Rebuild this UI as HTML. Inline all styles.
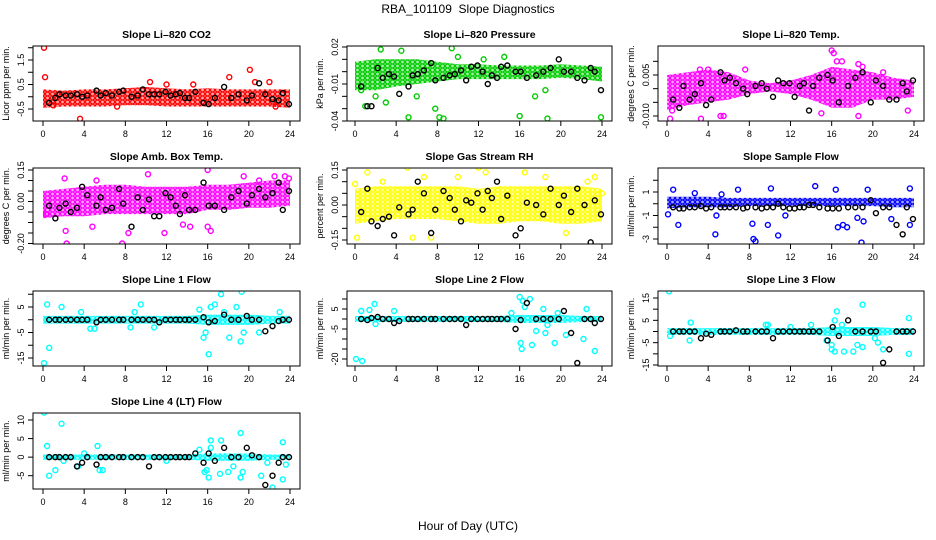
<!DOCTYPE html>
<html><head><meta charset="utf-8"><style>
body{margin:0;background:#fff}
svg{display:block;font-family:"Liberation Sans",sans-serif}
</style></head><body>
<svg id="c" width="936" height="540" viewBox="0 0 936 540">
<defs id="defs"></defs>
<text x="468" y="13" font-size="12" text-anchor="middle">RBA_101109&#160; Slope Diagnostics</text>
<text x="468" y="530" font-size="12" text-anchor="middle">Hour of Day (UTC)</text>
</svg>
<script>
const hours = [0,2,4,6,8,10,12,14,16,18,20,22,24];
const xTicks = [0,4,8,12,16,20,24];
const blackHours = [0.6,1.2,1.6,2.2,2.7,3.3,3.8,4.3,5.2,5.6,6.1,6.7,7.4,7.8,8.6,9.2,9.7,10.3,10.8,11.3,11.9,12.4,12.9,13.3,13.8,14.2,14.8,15.6,16.1,16.7,17.6,18.3,19.0,19.8,20.3,21.0,21.6,22.3,22.9,23.3,23.9];

// Panel 1 CO2
const co2Lo = [-0.45,-0.4,-0.4,-0.4,-0.35,-0.35,-0.4,-0.4,-0.4,-0.4,-0.4,-0.4,-0.45];
const co2Hi = [0.3,0.25,0.3,0.3,0.35,0.4,0.35,0.3,0.35,0.3,0.3,0.3,0.3];
const co2PtX = [0.1,0.2,3.6,10.4,14.6,18.1,20.1,20.6,22,22.6,1,7.2,12];
const co2PtY = [2.0,0.8,-0.9,0.6,0.5,0.8,1.1,0.6,0.6,-0.4,-0.35,-0.4,0.5];
const co2Black = [-0.25,-0.05,0.1,0.05,0.05,0.1,0,0.05,0.25,0.05,0.15,0.05,0.2,0.25,0,0.05,0.3,0.1,0.1,0.1,0.2,0.05,0.1,0.15,-0.05,-0.05,0.2,-0.25,-0.3,-0.05,0.4,-0.05,0.1,-0.15,0.05,0.55,0.1,-0.1,-0.15,0.15,-0.3];
const co2Ticks = [-0.5,0,0.5,1,1.5,2];
const co2Labels = ["-0.5","","0.5","","1.5",""];

// Panel 2 Pressure
const prLo = [-0.015,-0.015,-0.012,-0.01,-0.008,-0.006,-0.006,-0.006,-0.006,-0.006,-0.005,-0.006,-0.008];
const prHi = [0.008,0.01,0.01,0.01,0.008,0.006,0.006,0.005,0.005,0.005,0.006,0.005,0.004];
const prPtX = [0.6,1.0,4.5,5.2,7.8,8.2,8.6,9.4,6,3,16,18.7,23.9,12.5,10,2.5,14.5,17.5,18.5,2];
const prPtY = [-0.015,-0.028,0.017,-0.037,-0.03,-0.037,-0.038,0.019,-0.02,-0.025,-0.036,-0.038,-0.037,0.01,0.012,0.018,0.012,-0.02,-0.015,-0.02];
const prBlack = [-0.012,-0.028,-0.028,0.003,-0.005,-0.002,-0.004,-0.018,-0.012,-0.003,-0.002,0.001,0.007,-0.007,-0.005,-0.003,-0.002,0.001,-0.007,0.004,0.005,0.0,-0.01,-0.003,-0.005,0.004,0.005,0.0,0.0,-0.005,-0.003,0.0,0.003,0.01,0.0,0.0,-0.005,-0.007,0.003,0.0,-0.015];
const prTicks = [-0.04,-0.03,-0.02,-0.01,0,0.01,0.02];
const prLabels = ["-0.04","","","-0.01","","","0.02"];

// Panel 3 Li-820 Temp
const ltLo = [-0.008,-0.006,-0.005,-0.004,-0.002,-0.001,-0.002,-0.004,-0.007,-0.007,-0.004,-0.004,-0.003];
const ltHi = [0.005,0.006,0.007,0.006,0.003,0.002,0.003,0.005,0.008,0.007,0.006,0.004,0.003];
const ltPtX = [0.3,3.3,5.2,5.5,7.6,16,16.2,18.6,17,18.6,21,23.4,0.5,15,3.2,4,16.5,19];
const ltPtY = [-0.011,-0.011,-0.01,-0.01,0.007,0.014,0.013,-0.01,0.01,0.009,0.006,-0.008,-0.008,-0.009,0.007,0.007,0.01,0.008];
const ltBlack = [-0.004,-0.007,0.001,-0.004,-0.002,0.002,-0.006,-0.004,0.006,0.003,0.004,0.002,0.0,-0.002,0.001,0.002,0.0,-0.003,0.003,0.002,0.002,-0.003,0.001,0.002,-0.008,0.001,0.004,0.005,0.003,-0.005,0.001,0.004,0.006,-0.005,0.003,0.001,-0.004,-0.004,0.002,-0.001,0.003];
const ltTicks = [-0.01,-0.005,0,0.005,0.01];
const ltLabels = ["-0.010","","","0.005",""];

// Panel 4 Amb Box Temp
const abLo = [-0.08,-0.07,-0.07,-0.06,-0.06,-0.06,-0.06,-0.06,-0.04,-0.04,-0.03,-0.03,-0.02];
const abHi = [0.05,0.06,0.07,0.08,0.08,0.07,0.07,0.07,0.08,0.08,0.09,0.1,0.1];
const abPtX = [0.3,2.1,2.2,2.3,5.2,7.7,8.3,10.2,13.6,14.3,16,16.3,16,19.5,21,22.5,23.5,23.9,4.8,11.8];
const abPtY = [-0.06,0.11,-0.14,-0.2,0.1,-0.2,-0.15,0.13,-0.11,-0.12,0.15,-0.14,-0.12,0.12,0.1,0.12,0.12,0.11,-0.12,-0.15];
const abBlack = [-0.02,-0.08,-0.03,-0.01,-0.05,-0.03,0.07,0.03,-0.02,0.02,-0.04,-0.03,0.06,-0.01,-0.12,0.02,-0.04,0.01,-0.07,-0.07,0.04,0.02,-0.02,-0.06,0.03,-0.04,-0.04,0.09,-0.02,-0.02,-0.04,0.02,0.05,-0.01,0.03,0.06,0.02,0.04,0.09,-0.04,0.05];
const abTicks = [-0.2,-0.15,-0.1,-0.05,0,0.05,0.1,0.15];
const abLabels = ["-0.20","","","","0.00","","","0.15"];

// Panel 5 RH
const rhLo = [-0.08,-0.07,-0.06,-0.06,-0.06,-0.07,-0.08,-0.08,-0.07,-0.07,-0.08,-0.08,-0.07];
const rhHi = [0.07,0.08,0.08,0.08,0.08,0.08,0.07,0.08,0.08,0.08,0.08,0.08,0.07];
const rhPtX = [0,0.2,1.2,2.7,3.8,5.1,5.6,6.3,6.7,7.4,9.5,12,12.7,13.2,16.5,17.5,18.5,22.6,23.3,24,10,20.5];
const rhPtY = [0.09,-0.14,0.14,0.1,-0.18,0.16,-0.14,-0.18,0.12,-0.14,-0.18,0.16,0.14,-0.18,0.14,-0.2,0.12,0.1,0.12,0.05,0.12,-0.12];
const rhBlack = [-0.03,0.07,-0.07,-0.09,-0.06,-0.05,-0.13,-0.01,-0.04,-0.02,0.1,0.05,-0.12,-0.02,0.06,0.03,-0.02,-0.07,0.02,0.01,0.05,-0.02,0.06,0.03,0.1,-0.06,0.04,-0.13,-0.1,0.01,0.0,-0.04,0.07,0.0,0.04,-0.03,0.07,0.0,-0.16,0.02,-0.04];
const rhTicks = [-0.15,-0.1,-0.05,0,0.05,0.1,0.15];
const rhLabels = ["-0.15","","","0.00","","","0.15"];

// Panel 6 Sample Flow
const sfLo = [-0.4,-0.3,-0.3,-0.3,-0.2,-0.2,-0.2,-0.2,-0.2,-0.2,-0.2,-0.3,-0.3];
const sfHi = [0.6,0.6,0.6,0.5,0.5,0.5,0.5,0.5,0.5,0.5,0.5,0.5,0.5];
const sfPtX = [0.6,1.1,2.7,4.7,5.3,6.9,7.5,8.3,8.4,8.6,9.8,10.1,10.8,14.4,16.4,16.6,17.1,17.5,18.9,19.1,18.5,19.5,21.8,23.6,23.6,0.1,4.8,11.5];
const sfPtY = [1.2,-1.8,0.9,-2.6,0.8,1.2,4.1,-1.7,-3.0,-3.2,-1.8,1.3,-2.7,1.5,1.2,-2.0,-1.8,-2.0,-3.3,-1.5,-1.2,1.2,-1.3,1.3,-1.8,-0.9,-1.0,-1.0];
const sfBlack = [-0.3,-0.4,-0.4,-0.3,-0.3,-0.2,-0.4,-0.3,-0.3,-0.3,-0.3,-0.3,-0.4,-0.3,-0.3,-0.4,-0.3,-0.3,0.0,-0.3,-0.4,-0.4,-0.3,-0.3,-0.1,-0.1,-0.3,-0.4,-0.4,-0.4,-0.3,-0.3,-0.3,0.3,-0.8,-0.3,-0.3,-1.8,-2.6,-0.3,-1.3];
const sfTicks = [-3,-2,-1,0,1,2];
const sfLabels = ["-3","","-1","","1",""];

// Panel 7 Line 1
const l1Lo = [-1.5,-1.5,-1.5,-1.5,-1.5,-1.5,-1.5,-1.5,-2,-2,-2,-1.5,-1.5];
const l1Hi = [1.5,1.5,1.5,1.5,1.5,1.5,1.5,1.5,2,2,2,1.5,1.5];
const l1PtX = [0.1,0.4,0.6,1.8,3.7,4.6,5.0,8.9,9.5,15.2,15.6,15.8,16.1,16.3,16.7,17.3,17.6,18.1,18.8,19.2,19.3,19.5,21,23,8.5,10.8];
const l1PtY = [-17,6,-11,5,3,-3.5,-3.5,3,6,4,-7,-5,-13.5,5,6,10,3,-7,5,-8.5,11,-5,-5,3,-3,-3];
const l1Black = [0,0,0,0,0,0,0,0,-1,0,0,0,0,0,0,0,0,0,0,-1,0,0,0,0,0,0,0,1,-1,-0.5,2,0,0,1.5,0,0,-4.5,-2.5,-0.5,0,0];
const l1Ticks = [-15,-10,-5,0,5,10];
const l1Labels = ["-15","","-5","","5",""];

// Panel 8 Line 2
const l2Lo = [-1.5,-1.5,-1.5,-1.5,-1.5,-1.5,-1.5,-1.5,-2,-2,-2,-1.5,-1.5];
const l2Hi = [1.5,1.5,1.5,1.5,1.5,1.5,1.5,1.5,2,2,2,1.5,1.5];
const l2PtX = [0.1,0.7,0.6,1.4,1.9,2.0,3.8,15.2,16,16.3,16.5,17,16.1,16.2,17.2,17.6,18.3,18.5,18.7,19.4,20.5,22.2,22.5,23.3,19.7];
const l2PtY = [-20,-21,4,4.5,7.5,-2.5,4,3,11,9,6,10,-12,-15,-13,-6,5,-7,-3,-12,-8,-10,5,-16,3];
const l2Black = [0,-0.5,0.5,1,0,0,-2,-1,0,0,0,0,0,0,0,0,0,0,-3,0,0,0,0,0,0,0,0,-5,-0.5,8,0,0,0,0,4,-7,-22,0,0,-2,0];
const l2Ticks = [-20,-15,-10,-5,0,5,10];
const l2Labels = ["-20","","","-5","","5",""];

// Panel 9 Line 3
const l3Lo = [-1.5,-1.5,-1.5,-1.5,-1.5,-1.5,-1.5,-1.5,-2,-2,-2,-1.5,-1.5];
const l3Hi = [1.5,1.5,1.5,1.5,1.5,1.5,1.5,1.5,2,2,2,1.5,1.5];
const l3PtX = [0.2,0.3,2.2,2.3,9.6,9.8,12,15.5,16,16,16.3,16.5,16.3,17.2,18.1,18.5,19,19,20.2,20.5,21,23.5,23.5,14,17];
const l3PtY = [18,-2,-4,4,3,3,2,-4,-8,-6,-9,9,5,-9,-9,-6,-7,12,-3,-5,-8,6,-10,3,3];
const l3Black = [0,0,0,0,0,-3,-1,-1.5,0,0,0,0.5,0,0,0,0,0,-3,0,0,0,0,0,0,0,0,0,-4,2,-2,5,0,0,0,0,-14,-8,0,0,0,0];
const l3Ticks = [-15,-10,-5,0,5,10,15];
const l3Labels = ["-15","","-5","","5","","15"];

// Panel 10 Line 4
const l4Lo = [-0.7,-0.7,-0.7,-0.7,-0.7,-0.7,-0.7,-0.7,-1,-1,-1,-0.7,-0.7];
const l4Hi = [0.7,0.7,0.7,0.7,0.7,0.7,0.7,0.7,1,1,1,0.7,0.7];
const l4PtX = [0.1,0.4,0.6,1.2,1.8,2,3.4,5.3,5.5,5.8,15.2,15.7,15.9,16.1,16.3,16.3,17.2,17.3,18,18.5,19.2,19.2,19.4,21.2,21.8,22.3,23.3,23.3,23.6,12,4];
const l4PtY = [12,3,-5,-3.5,9,-1,-2.5,3,-3.5,-3.5,2,-4,-3.5,-5.5,4.5,2.5,-4.5,4.5,-4,-2.5,6.5,-5.5,-4,-5,-1.5,-8.2,4,-6,-2,-1,1];
const l4Black = [0,0,0,0,0,-2.5,-1.5,0,-2,0,0,0,0,0,0,0,0,-2.5,0,0,0,0,0,0,0,0,1,-1.5,1,-1,2.5,0,0,2.5,0.5,0,-7.5,-5,-1.5,0,0];
const l4Ticks = [-5,0,5,10];
const l4Labels = ["-5","0","5","10"];

const NS = "http://www.w3.org/2000/svg";
const svg = document.getElementById('c');
const defs = document.getElementById('defs');
function mk(tag, attrs, parent){const e=document.createElementNS(NS,tag);for(const k in attrs)e.setAttribute(k,attrs[k]);(parent||svg).appendChild(e);return e;}

const cols = [{l:33,r:300,x0:43,x24:290},{l:347,r:612,x0:355,x24:602},{l:658,r:924,x0:667,x24:914}];
const rows = [{t:46,b:121},{t:168,b:244},{t:291,b:366},{t:413,b:489}];

const panels = [
 {name:"co2",title:"Slope Li\u2013820 CO2",ylab:"Licor ppm per min.",c:0,r:0,color:"#ff0000",v1:1.5,p1:60,v2:-0.5,p2:109,lo:co2Lo,hi:co2Hi,px:co2PtX,py:co2PtY,bk:co2Black,ticks:co2Ticks,labels:co2Labels},
 {name:"pressure",title:"Slope Li\u2013820 Pressure",ylab:"kPa per min.",c:1,r:0,color:"#00cc00",v1:0.02,p1:47,v2:-0.04,p2:121,lo:prLo,hi:prHi,px:prPtX,py:prPtY,bk:prBlack,ticks:prTicks,labels:prLabels},
 {name:"li820-temp",title:"Slope Li\u2013820 Temp.",ylab:"degrees C per min.",c:2,r:0,color:"#ff00ff",v1:0.005,p1:75,v2:-0.01,p2:116,lo:ltLo,hi:ltHi,px:ltPtX,py:ltPtY,bk:ltBlack,ticks:ltTicks,labels:ltLabels},
 {name:"amb-box-temp",title:"Slope Amb. Box Temp.",ylab:"degrees C per min.",c:0,r:1,color:"#ff00ff",v1:0.15,p1:170,v2:0,p2:201.5,lo:abLo,hi:abHi,px:abPtX,py:abPtY,bk:abBlack,ticks:abTicks,labels:abLabels},
 {name:"gas-rh",title:"Slope Gas Stream RH",ylab:"percent per min.",c:1,r:1,color:"#ffff00",v1:0.15,p1:170,v2:-0.15,p2:240,lo:rhLo,hi:rhHi,px:rhPtX,py:rhPtY,bk:rhBlack,ticks:rhTicks,labels:rhLabels},
 {name:"sample-flow",title:"Slope Sample Flow",ylab:"ml/min per min.",c:2,r:1,color:"#0000ff",v1:1,p1:192,v2:-3,p2:239,lo:sfLo,hi:sfHi,px:sfPtX,py:sfPtY,bk:sfBlack,ticks:sfTicks,labels:sfLabels},
 {name:"line1-flow",title:"Slope Line 1 Flow",ylab:"ml/min per min.",c:0,r:2,color:"#00ffff",v1:5,p1:307,v2:-15,p2:358,lo:l1Lo,hi:l1Hi,px:l1PtX,py:l1PtY,bk:l1Black,ticks:l1Ticks,labels:l1Labels},
 {name:"line2-flow",title:"Slope Line 2 Flow",ylab:"ml/min per min.",c:1,r:2,color:"#00ffff",v1:5,p1:309,v2:-20,p2:359,lo:l2Lo,hi:l2Hi,px:l2PtX,py:l2PtY,bk:l2Black,ticks:l2Ticks,labels:l2Labels},
 {name:"line3-flow",title:"Slope Line 3 Flow",ylab:"ml/min per min.",c:2,r:2,color:"#00ffff",v1:15,p1:298,v2:-15,p2:365,lo:l3Lo,hi:l3Hi,px:l3PtX,py:l3PtY,bk:l3Black,ticks:l3Ticks,labels:l3Labels},
 {name:"line4-flow",title:"Slope Line 4 (LT) Flow",ylab:"ml/min per min.",c:0,r:3,color:"#00ffff",v1:10,p1:420,v2:-5,p2:475.7,lo:l4Lo,hi:l4Hi,px:l4PtX,py:l4PtY,bk:l4Black,ticks:l4Ticks,labels:l4Labels}
];

panels.forEach(p=>{
  const C=cols[p.c], R=rows[p.r];
  const g=mk('g',{});
  
  
  const xs=h=>C.x0+(C.x24-C.x0)*h/24;
  const ys=v=>p.p1+(v-p.v1)*(p.p2-p.p1)/(p.v2-p.v1);
  const clip='clip-'+p.name;
  const cp=mk('clipPath',{id:clip},g); mk('rect',{x:C.l,y:R.t,width:C.r-C.l,height:R.b-R.t},cp);
  // textured pattern of small circles
  const pat=mk('pattern',{id:'pat-'+p.name,width:5,height:4,patternUnits:'userSpaceOnUse'},defs);
  mk('rect',{x:0,y:0,width:5,height:4,fill:p.color,'fill-opacity':0.35},pat);
  mk('circle',{cx:2.5,cy:2,r:2,fill:'none',stroke:p.color,'stroke-width':1.2},pat);
  const plot=mk('g',{'clip-path':'url(#'+clip+')'},g);
  let d='';
  hours.forEach((h,i)=>{d+=(i?'L':'M')+xs(h).toFixed(1)+','+ys(p.hi[i]).toFixed(1);});
  for(let i=hours.length-1;i>=0;i--) d+='L'+xs(hours[i]).toFixed(1)+','+ys(p.lo[i]).toFixed(1);
  const band=mk('path',{d:d+'Z',fill:'url(#pat-'+p.name+')',stroke:'none'},plot);
  
  
  const n=Math.min(p.px.length,p.py.length);
  for(let i=0;i<n;i++){
    const e=mk('circle',{cx:xs(p.px[i]),cy:ys(p.py[i]),r:2.5,fill:'none',stroke:p.color,'stroke-width':1.4},plot);
    
    
  }
  const nb=Math.min(blackHours.length,p.bk.length);
  for(let i=0;i<nb;i++){
    const e=mk('circle',{cx:xs(blackHours[i]),cy:ys(p.bk[i]),r:2.5,fill:'none',stroke:'#000','stroke-width':1.4},plot);
    
    
  }
  mk('rect',{x:C.l,y:R.t,width:C.r-C.l,height:R.b-R.t,fill:'none',stroke:'#000','stroke-width':1},g);
  const t=mk('text',{x:(C.l+C.r)/2,y:R.t-8,'font-size':10.5,'font-weight':'bold','text-anchor':'middle'},g);
  t.textContent=p.title;
  
  
  mk('line',{x1:C.x0,x2:C.x24,y1:R.b,y2:R.b,stroke:'#000'},g);
  xTicks.forEach(h=>{
    mk('line',{x1:xs(h),x2:xs(h),y1:R.b,y2:R.b+5,stroke:'#000'},g);
    const tl=mk('text',{x:xs(h),y:R.b+16,'font-size':9,'text-anchor':'middle'},g);
    tl.textContent=h;
    
    
  });
  const yv=p.ticks.map(ys);
  mk('line',{x1:C.l,x2:C.l,y1:Math.min(...yv),y2:Math.max(...yv),stroke:'#000'},g);
  p.ticks.forEach((v,i)=>{
    const y=ys(v);
    mk('line',{x1:C.l-5,x2:C.l,y1:y,y2:y,stroke:'#000'},g);
    if(p.labels[i]){
      const tl=mk('text',{x:C.l-9,y:y,'font-size':9,'text-anchor':'middle',transform:'rotate(-90 '+(C.l-9)+' '+y+')'},g);
      tl.textContent=p.labels[i];
      
      
    }
  });
  const yl=mk('text',{x:C.l-24,y:(R.t+R.b)/2,'font-size':9,'text-anchor':'middle',transform:'rotate(-90 '+(C.l-24)+' '+((R.t+R.b)/2)+')'},g);
  yl.textContent=p.ylab;
  
  
});
</script>
</body></html>
